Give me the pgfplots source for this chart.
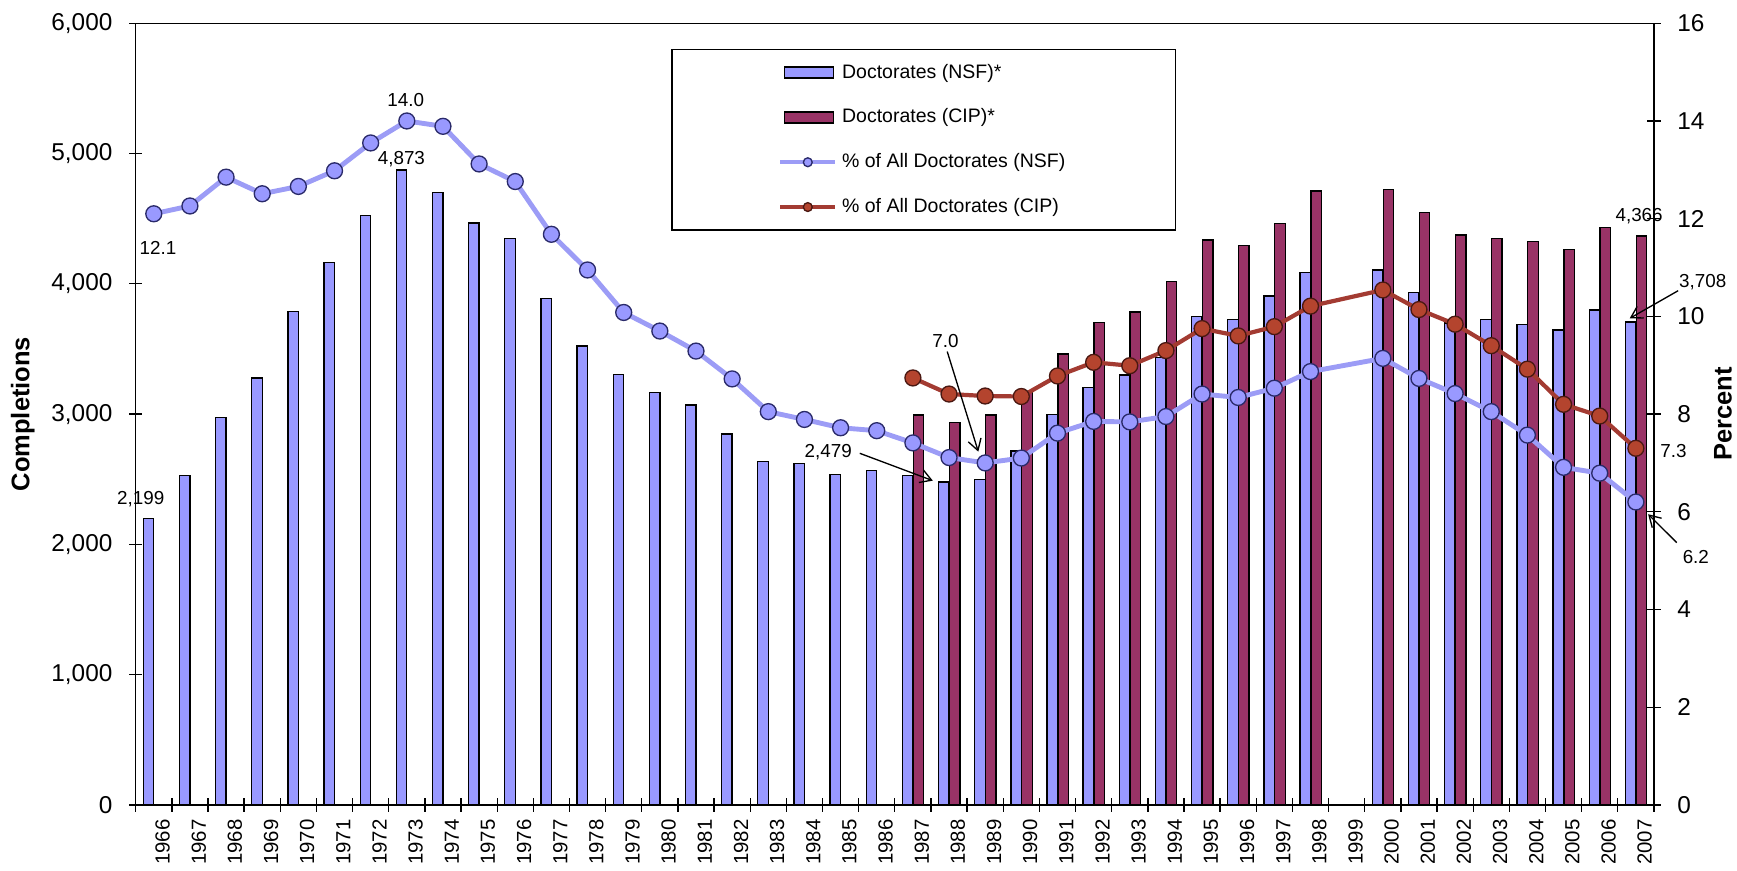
\documentclass[border=0pt]{standalone}
\usepackage{fontspec}
\setmainfont{Liberation Sans}
\usepackage{pgfplots}
\usepackage{pgfplotstable}
\pgfplotsset{compat=1.18}
\usetikzlibrary{arrows.meta}
\definecolor{nsf}{HTML}{9999FF}
\definecolor{cip}{HTML}{993366}
\definecolor{nsfline}{HTML}{9C9CF6}
\definecolor{nsfedge}{HTML}{2A2A6A}
\definecolor{cipline}{HTML}{A33B32}
\definecolor{cipfill}{HTML}{B4442E}
\definecolor{cipedge}{HTML}{4A1812}
\newcommand{\lbl}{\fontsize{8.5}{10}\selectfont}

\pgfplotstableread{
x y
0 2199
1 2528
2 2974
3 3276
4 3790
5 4162
6 4522
7 4873
8 4700
9 4468
10 4346
11 3886
12 3523
13 3306
14 3166
15 3069
16 2847
17 2636
18 2623
19 2538
20 2569
21 2526
22 2479
23 2500
24 2717
25 2995
26 3203
27 3300
28 3435
29 3747
30 3727
31 3906
32 4085
34 4106
35 3935
36 3700
37 3727
38 3689
39 3645
40 3799
41 3708
}\nsfbars

\pgfplotstableread{
x y
21 2993
22 2937
23 2993
24 3170
25 3461
26 3702
27 3784
28 4016
29 4336
30 4292
31 4464
32 4712
34 4725
35 4546
36 4375
37 4349
38 4323
39 4265
40 4431
41 4366
}\cipbars

\pgfplotstableread{
x y
0 12.1
1 12.26
2 12.85
3 12.51
4 12.66
5 12.98
6 13.55
7 14.0
8 13.89
9 13.12
10 12.76
11 11.68
12 10.95
13 10.08
14 9.70
15 9.29
16 8.72
17 8.05
18 7.89
19 7.72
20 7.66
21 7.41
22 7.11
23 7.0
24 7.10
25 7.61
26 7.85
27 7.84
28 7.95
29 8.41
30 8.34
31 8.53
32 8.87
34 9.14
35 8.73
36 8.42
37 8.05
38 7.57
39 6.91
40 6.79
41 6.2
}\nsfpct

\pgfplotstableread{
x y
21 8.74
22 8.41
23 8.37
24 8.36
25 8.78
26 9.06
27 8.99
28 9.30
29 9.75
30 9.60
31 9.79
32 10.21
34 10.54
35 10.14
36 9.84
37 9.40
38 8.92
39 8.20
40 7.96
41 7.3
}\cippct

\begin{document}
\begin{tikzpicture}
\begin{axis}[
  name=ax,
  scale only axis,
  width=685.25pt, height=352.8pt,
  xmin=-0.5, xmax=41.5, ymin=0, ymax=6000,
  axis line style={line width=0.6pt},
  clip=false,
  xtick={0,...,41},
  xticklabels={1966,1967,1968,1969,1970,1971,1972,1973,1974,1975,1976,1977,1978,1979,1980,1981,1982,1983,1984,1985,1986,1987,1988,1989,1990,1991,1992,1993,1994,1995,1996,1997,1998,1999,2000,2001,2002,2003,2004,2005,2006,2007},
  minor xtick={-0.5,0.5,...,41.5},
  major x tick style={draw=none},
  xtick pos=bottom, ytick pos=left,
  tick align=center,
  major tick length=6pt, minor tick length=6pt,
  tick style={line width=0.6pt, black},
  ytick={0,1000,...,6000},
  scaled y ticks=false,
  /pgf/number format/1000 sep={,},
  /pgf/number format/assume math mode=true,
  xticklabel style={rotate=90, anchor=east, font=\fontsize{9.2}{10}\selectfont, yshift=-4pt},
  yticklabel style={font=\fontsize{11}{13}\selectfont, xshift=-4pt},
  every axis y label/.style={at={(axis description cs:-0.0744,0.5)}, rotate=90, anchor=center, font=\fontsize{11.5}{13}\selectfont\bfseries},
  ylabel={Completions},
]
\addplot[ybar, bar width=0.29, bar shift=-0.145, fill=nsf, draw=black, line width=0.6pt] table[x=x,y=y] {\nsfbars};
\addplot[ybar, bar width=0.29, bar shift=0.155, fill=cip, draw=black, line width=0.6pt] table[x=x,y=y] {\cipbars};
\node[font=\lbl, inner sep=0pt] at (axis cs:-0.36,2347) {2,199};
\node[font=\lbl, inner sep=0pt] at (axis cs:6.85,4956) {4,873};
\node[font=\lbl, inner sep=0pt] at (axis cs:18.66,2711) {2,479};
\draw[line width=0.6pt, -{Straight Barb[length=5pt,width=6pt]}] (axis cs:19.53,2699) -- (axis cs:21.55,2489);
\node[font=\lbl, inner sep=0pt] at (axis cs:41.09,4522) {4,366};
\node[font=\lbl, inner sep=0pt] at (axis cs:42.85,4016) {3,708};
\draw[line width=0.6pt, -{Straight Barb[length=5pt,width=6pt]}] (axis cs:42.17,3947) -- (axis cs:40.83,3735);
\end{axis}
\begin{axis}[
  scale only axis,
  width=685.25pt, height=352.8pt,
  xmin=-0.5, xmax=41.5, ymin=0, ymax=16,
  axis x line=none,
  axis y line*=right,
  axis line style={line width=0.6pt},
  clip=false,
  ytick={0,2,...,16},
  tick align=center,
  major tick length=6pt,
  tick style={line width=0.6pt, black},
  /pgf/number format/assume math mode=true,
  yticklabel style={font=\fontsize{11}{13}\selectfont, xshift=4pt},
  every axis y label/.style={at={(axis description cs:1.0455,0.5)}, rotate=90, anchor=center, font=\fontsize{11.5}{13}\selectfont\bfseries},
  ylabel={Percent},
  legend style={at={(axis description cs:0.5191,0.967)}, anchor=north, draw=black, line width=0.6pt, fill=white,
    inner xsep=47.75pt, inner ysep=4.4pt, row sep=8.35pt, font=\fontsize{8.8}{10}\selectfont, cells={anchor=west}},
]
\addlegendimage{legend image code/.code={\draw[fill=nsf,draw=black,line width=0.6pt] (2pt,-2.5pt) rectangle (24pt,2.5pt);}}
\addlegendentry{Doctorates (NSF)*}
\addlegendimage{legend image code/.code={\draw[fill=cip,draw=black,line width=0.6pt] (2pt,-2.5pt) rectangle (24pt,2.5pt);}}
\addlegendentry{Doctorates (CIP)*}
\addplot[color=nsfline, line width=2.2pt, mark=*, mark size=3.6pt,
  mark options={fill=nsf, draw=nsfedge, line width=0.6pt},
  legend image code/.code={\draw[nsfline, line width=2pt] (0pt,0pt) -- (25pt,0pt); \draw[fill=nsf, draw=nsfedge, line width=0.6pt] (12.5pt,0pt) circle (2pt);}
  ] table[x=x,y=y] {\nsfpct};
\addlegendentry{\% of All Doctorates (NSF)}
\addplot[color=cipline, line width=1.9pt, mark=*, mark size=3.6pt,
  mark options={fill=cipfill, draw=cipedge, line width=0.6pt},
  legend image code/.code={\draw[cipline, line width=2pt] (0pt,0pt) -- (25pt,0pt); \draw[fill=cipfill, draw=cipedge, line width=0.6pt] (12.5pt,0pt) circle (2pt);}
  ] table[x=x,y=y] {\cippct};
\addlegendentry{\% of All Doctorates (CIP)}
\node[font=\lbl, inner sep=0pt] at (axis cs:0.117,11.41) {12.1};
\node[font=\lbl, inner sep=0pt] at (axis cs:6.97,14.43) {14.0};
\node[font=\lbl, inner sep=0pt] at (axis cs:21.9,9.5) {7.0};
\draw[line width=0.6pt, -{Straight Barb[length=5pt,width=6pt]}] (axis cs:21.95,9.28) -- (axis cs:22.81,7.23);
\node[font=\lbl, inner sep=0pt] at (axis cs:42.04,7.25) {7.3};
\node[font=\lbl, inner sep=0pt] at (axis cs:42.66,5.08) {6.2};
\draw[line width=0.6pt, -{Straight Barb[length=5pt,width=6pt]}] (axis cs:42.13,5.37) -- (axis cs:41.34,5.95);
\end{axis}
\pgfresetboundingbox
\path[use as bounding box] ([xshift=-61.25pt,yshift=-29.65pt]ax.south west) rectangle ([xshift=37.5pt,yshift=10.5pt]ax.north east);
\end{tikzpicture}
\end{document}
